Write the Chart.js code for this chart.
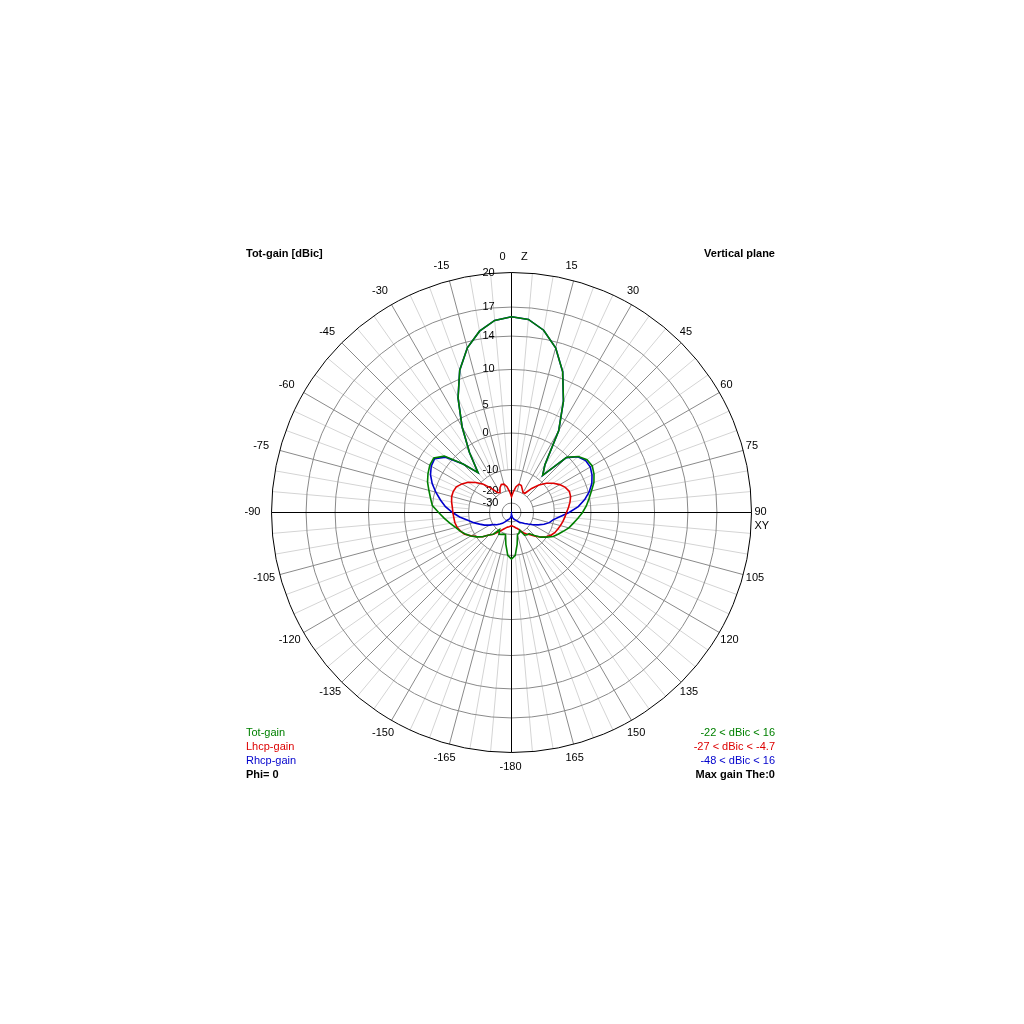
<!DOCTYPE html>
<html lang="en">
<head>
<meta charset="UTF-8">
<title>Tot-gain - Vertical plane</title>
<script src="https://cdn.jsdelivr.net/npm/chart.js"></script>
<style>
  body { margin: 0; background: #fff; }
  #wrap { position: relative; width: 1024px; height: 1024px; font-family: "Liberation Sans", Arial, sans-serif; font-size: 11px; color: #000; }
  canvas { position: absolute; left: 0; top: 0; }
  .t { position: absolute; white-space: nowrap; line-height: 14px; }
  .b { font-weight: bold; }
  .r { right: 249px; text-align: right; }
</style>
</head>
<body>
<div id="wrap">
  <canvas id="myChart" width="1024" height="1024"></canvas>
  <div class="t b" style="left:246px;top:246px">Tot-gain [dBic]</div>
  <div class="t b r" style="top:246px">Vertical plane</div>

  <div class="t" style="left:246px;top:725px;color:#008000">Tot-gain</div>
  <div class="t" style="left:246px;top:739px;color:#dd0000">Lhcp-gain</div>
  <div class="t" style="left:246px;top:753px;color:#0000cc">Rhcp-gain</div>
  <div class="t b" style="left:246px;top:767px">Phi= 0</div>

  <div class="t r" style="top:725px;color:#008000">-22 &lt; dBic &lt; 16</div>
  <div class="t r" style="top:739px;color:#dd0000">-27 &lt; dBic &lt; -4.7</div>
  <div class="t r" style="top:753px;color:#0000cc">-48 &lt; dBic &lt; 16</div>
  <div class="t b r" style="top:767px">Max gain The:0</div>
</div>
<script>
  // theta in degrees, clockwise from Z (top)
  const thetas = [0,5,10,15,20,25,30,35,40,45,50,55,60,65,70,75,80,85,90,95,100,105,110,115,120,125,130,135,140,145,150,155,160,165,170,175,180,
                  -175,-170,-165,-160,-155,-150,-145,-140,-135,-130,-125,-120,-115,-110,-105,-100,-95,-90,-85,-80,-75,-70,-65,-60,-55,-50,-45,-40,-35,-30,-25,-20,-15,-10,-5];

  // gains in dBic, same order as thetas
  const totGain = [16.0,15.8,14.9,13.3,10.8,7.2,2.7,-5.8,-8.5,-0.4,1.4,2.3,2.5,2.1,1.5,0.6,-0.2,-1.2,-2.3,-3.5,-4.6,-5.5,-6.7,-7.7,-8.6,-10.0,-12.2,-15.0,-17.4,-17.5,-18.0,-22.0,-20.0,-19.5,-15.0,-10.0,-9.0,
                   -10.0,-15.0,-19.5,-19.5,-19.0,-18.5,-21.0,-17.0,-15.3,-12.5,-10.2,-8.9,-7.8,-6.8,-5.9,-4.7,-3.3,-1.8,0.0,0.5,1.1,1.8,2.3,2.7,2.8,1.5,-3.0,-7.5,-1.7,3.5,7.7,11.0,13.3,14.8,15.7];
  const lhcpGain = [-25.0,-21.0,-18.0,-16.5,-16.8,-18.3,-19.5,-19.3,-15.5,-12.0,-9.3,-7.8,-6.5,-5.5,-4.9,-5.0,-5.5,-6.1,-6.7,-7.1,-7.5,-7.9,-8.3,-8.7,-9.3,-10.3,-12.3,-14.5,-16.6,-18.0,-19.3,-22.0,-24.0,-25.0,-26.0,-26.5,-27.0,
                    -26.5,-26.0,-25.5,-24.5,-23.0,-21.0,-19.0,-17.0,-15.3,-12.5,-10.4,-9.0,-7.6,-6.9,-6.3,-6.0,-5.9,-5.7,-5.5,-5.1,-4.8,-4.8,-5.1,-6.1,-7.3,-9.0,-11.5,-15.3,-19.0,-19.5,-17.5,-16.3,-16.5,-18.0,-21.0];
  const rhcpGain = [16.0,15.8,14.9,13.3,10.8,7.2,2.7,-5.8,-8.5,-0.5,1.3,2.0,2.1,1.7,1.1,0.2,-1.4,-3.4,-6.0,-8.5,-10.4,-11.8,-14.0,-16.5,-18.8,-21.5,-24.0,-26.0,-27.0,-29.0,-31.0,-32.5,-34.0,-36.0,-38.0,-42.0,-48.0,
                    -41.0,-37.5,-35.5,-34.0,-32.5,-30.5,-28.5,-26.3,-24.5,-22.3,-20.8,-18.5,-16.3,-14.3,-11.8,-9.6,-7.5,-5.6,-3.6,-2.0,-0.3,0.9,1.8,2.4,2.6,1.2,-3.0,-7.5,-1.7,3.5,7.7,11.0,13.3,14.8,15.7];

  // rings of the gain scale
  const ringTicks = [20, 17, 14, 10, 5, 0, -10, -20, -30];

  // compressed gain scale: dB -> fraction of the outer radius
  const scaleDb   = [-60, -50, -40, -30, -20, -10, 0, 5, 10, 14, 17, 20];
  const scaleFrac = [0, 0.005, 0.0146, 0.0396, 0.0917, 0.179, 0.331, 0.446, 0.596, 0.735, 0.856, 1];

  const plotRadius = 240;
  const plotCenter = { x: 511.5, y: 512.5 };
  const labelFont = '"Liberation Sans", Arial, sans-serif';
  // spokes do not reach the centre: 15 deg ones stop at -20, 5 deg ones at -10
  const majorSpokeFrom = -20;
  const minorSpokeFrom = -10;

  function gainToFrac(v) {
    if (v <= scaleDb[0]) return 0;
    for (let i = 1; i < scaleDb.length; i++) {
      if (v <= scaleDb[i]) {
        const k = (v - scaleDb[i - 1]) / (scaleDb[i] - scaleDb[i - 1]);
        return scaleFrac[i - 1] + k * (scaleFrac[i] - scaleFrac[i - 1]);
      }
    }
    return 1;
  }

  class GainScale extends Chart.RadialLinearScale {
    getDistanceFromCenterForValue(value) {
      return this.drawingArea * gainToFrac(value);
    }
    fit() {
      super.fit();
      this.drawingArea = plotRadius;
      this.xCenter = plotCenter.x;
      this.yCenter = plotCenter.y;
      // place angle labels like the antenna program does
      const lh = 11 * 1.25;
      this._pointLabelItems = this._pointLabels.map((label, i) => {
        const p = this.getPointPosition(i, this.drawingArea + 15);
        const x = p.x - 12;
        const y = p.y - 0.5 - lh / 2;
        return { visible: label !== '', x, y, textAlign: 'left', left: x, top: y, right: x + 20, bottom: y + lh };
      });
    }
    drawGrid() {
      const ctx = this.ctx;
      ctx.save();
      ctx.lineWidth = 1;
      thetas.forEach((t, i) => {
        if (t % 90 === 0) return;
        const major = t % 15 === 0;
        const a = this.getPointPosition(i, this.getDistanceFromCenterForValue(major ? majorSpokeFrom : minorSpokeFrom));
        const b = this.getPointPosition(i, this.drawingArea);
        ctx.strokeStyle = major ? '#8a8a8a' : '#d4d4d4';
        ctx.beginPath();
        ctx.moveTo(a.x, a.y);
        ctx.lineTo(b.x, b.y);
        ctx.stroke();
      });
      ctx.restore();
      super.drawGrid();
    }
    drawLabels() {
      const ctx = this.ctx;
      ctx.save();
      ctx.font = '11px ' + labelFont;
      ctx.fillStyle = '#000';
      ctx.textAlign = 'left';
      ctx.textBaseline = 'middle';
      this.ticks.forEach(t => {
        ctx.fillText(t.label, this.xCenter - 29, this.yCenter - this.getDistanceFromCenterForValue(t.value));
      });
      ctx.restore();
    }
  }
  GainScale.id = 'gainRadial';
  GainScale.defaults = Chart.RadialLinearScale.defaults;
  Chart.register(GainScale);

  const ctx = document.getElementById('myChart');

  new Chart(ctx, {
    type: 'radar',
    data: {
      labels: thetas,
      datasets: [
        { label: 'Tot-gain', data: totGain, borderColor: '#008000', order: 0 },
        { label: 'Lhcp-gain', data: lhcpGain, borderColor: '#dd0000', order: 1 },
        { label: 'Rhcp-gain', data: rhcpGain, borderColor: '#0000cc', order: 2 }
      ]
    },
    options: {
      responsive: false,
      animation: false,
      events: [],
      elements: {
        line: { tension: 0, borderWidth: 1.6, fill: false, backgroundColor: 'transparent' },
        point: { radius: 0 }
      },
      plugins: { legend: { display: false }, tooltip: { enabled: false } },
      scales: {
        r: {
          type: 'gainRadial',
          min: -60,
          max: 20,
          startAngle: 0,
          afterBuildTicks: axis => { axis.ticks = ringTicks.map(v => ({ value: v })); },
          ticks: { display: false, callback: v => String(v) },
          grid: {
            circular: true,
            lineWidth: 1,
            color: c => (c.tick && c.tick.value === 20) ? '#000000' : '#8a8a8a'
          },
          // only the Z and XY axes go through the centre
          angleLines: {
            display: true,
            color: '#000000',
            lineWidth: c => (thetas[c.index] % 90 === 0 ? 1 : 0)
          },
          pointLabels: {
            display: true,
            color: '#000',
            font: { family: labelFont, size: 11, lineHeight: 1.25 },
            callback: (label, index) => {
              const t = thetas[index];
              if (t % 15 !== 0) return '';
              if (t === 0) return '0     Z';
              if (t === 90) return ['90', 'XY'];
              if (t === 180) return '-180';
              return String(t);
            }
          }
        }
      }
    }
  });
</script>
</body>
</html>
